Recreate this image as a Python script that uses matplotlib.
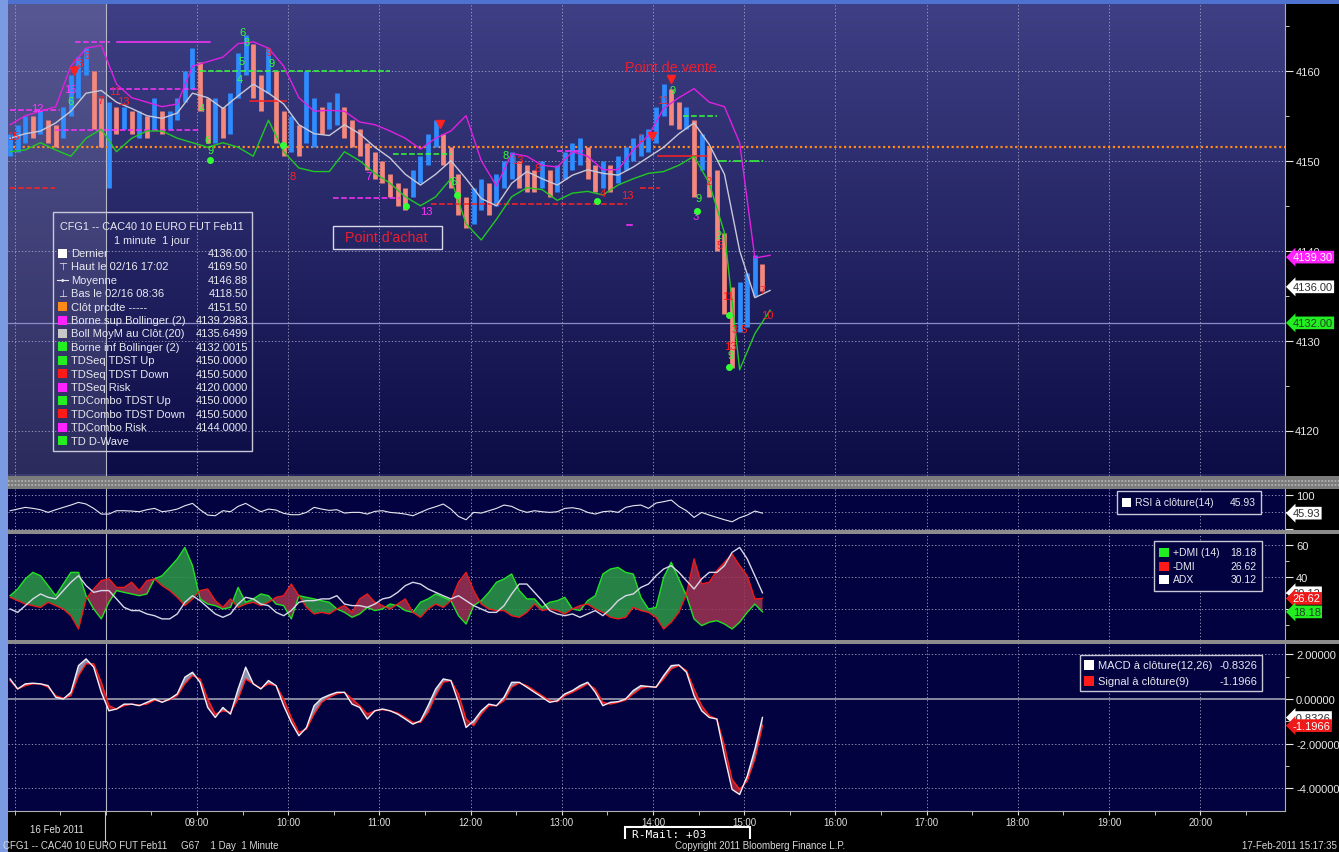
import numpy as np
import matplotlib.pyplot as plt
from matplotlib.patches import Rectangle
from matplotlib.lines import Line2D
from matplotlib.colors import LinearSegmentedColormap

plt.rcParams['font.family'] = ['Liberation Sans', 'DejaVu Sans']

# ---- price, 5 minute bars (first bar 06:57) ----
start = 6.95
close = [4151.5, 4152.5, 4154, 4153.5, 4154, 4153, 4152.5, 4155, 4157.5, 4160.5,
         4161.5, 4156, 4153, 4155, 4154.5, 4155, 4154, 4154.5, 4153.5, 4155,
         4154, 4154.5, 4156, 4158.5, 4160.5, 4157, 4154, 4156, 4153.5, 4155.5,
         4160, 4162.5, 4158.5, 4157, 4160, 4155, 4152, 4153.5, 4152, 4154,
         4155, 4154.5, 4155, 4156, 4154, 4153, 4152, 4150.5, 4149.5, 4148.5,
         4147, 4146, 4145.5, 4147.5, 4149, 4151.5, 4153, 4151, 4149, 4146,
         4144, 4145, 4146.5, 4145.5, 4147, 4149, 4149.5, 4148.5, 4148, 4147.5,
         4148.5, 4147.5, 4148, 4149.5, 4150.5, 4151, 4149.5, 4148, 4148.5, 4148,
         4149, 4150, 4151, 4151.5, 4152, 4154.5, 4157, 4155.5, 4154.5, 4155,
         4150, 4151, 4148, 4143, 4136, 4131.5, 4133, 4135.5, 4138, 4136]
high = [4153, 4154, 4155, 4155, 4155.5, 4154.5, 4154, 4156, 4159.5, 4161.5,
        4162.5, 4160, 4157, 4156.5, 4156, 4156, 4155.5, 4155.5, 4155, 4157,
        4155.5, 4155.5, 4157, 4160, 4162.5, 4161, 4157, 4157, 4156, 4157.5,
        4162, 4164, 4163, 4159.5, 4162.5, 4160, 4155.5, 4155, 4154, 4160,
        4157, 4156, 4156.5, 4157.5, 4156, 4154.5, 4153.5, 4152, 4151, 4150,
        4148.5, 4147.5, 4147, 4149, 4150.5, 4153, 4154.5, 4153, 4151.5, 4148.5,
        4146, 4147, 4148, 4147.5, 4148.5, 4150, 4151, 4150, 4149.5, 4149,
        4150, 4149, 4149.5, 4151, 4152, 4152.5, 4151.5, 4149.5, 4150, 4149.5,
        4150.5, 4151.5, 4152.5, 4153, 4153.5, 4156, 4158.5, 4158, 4156.5, 4156,
        4154.5, 4153, 4151.5, 4149, 4142, 4136, 4136.5, 4137.5, 4139.5, 4138.5]
low = [4150.5, 4151, 4152, 4152.5, 4153, 4152, 4151.5, 4152.5, 4155, 4157,
       4159.5, 4153.5, 4151.5, 4147, 4153, 4153.5, 4153, 4152.5, 4152.5, 4153.5,
       4153, 4153.5, 4154.5, 4156.5, 4158, 4155.5, 4152, 4152, 4152.5, 4153,
       4157, 4159.5, 4157, 4155.5, 4157.5, 4152, 4150.5, 4151, 4150.5, 4152,
       4151.5, 4153, 4153.5, 4154, 4152.5, 4151.5, 4150.5, 4149, 4148, 4147.5,
       4146, 4145, 4144.5, 4146, 4147.5, 4149.5, 4151.5, 4149.5, 4147, 4144,
       4142.5, 4143, 4144.5, 4144, 4145, 4147, 4148, 4147, 4146.5, 4146.5,
       4147, 4146, 4146.5, 4148, 4149, 4149.5, 4148, 4146.5, 4147, 4146.5,
       4147.5, 4149, 4150, 4150.5, 4151, 4152, 4155, 4154, 4153.5, 4153.5,
       4146, 4149, 4146, 4140, 4133, 4127, 4131, 4131.5, 4135, 4135.5]

# Bollinger (20, 2), every 10 minutes
boll_up = [4154, 4155, 4155.5, 4156, 4160.5, 4162.5, 4162.8, 4158.5, 4157, 4156.5,
           4156, 4156.3, 4160.5, 4161, 4161.5, 4163, 4163.2, 4162.5, 4160.5, 4157,
           4155.5, 4155.6, 4155.5, 4154.3, 4154, 4153.3, 4152.5, 4151.3, 4152.5, 4153.3,
           4155, 4150, 4147.2, 4150.8, 4150.5, 4149.5, 4149.3, 4151, 4150.5, 4149,
           4149, 4151.2, 4152.8, 4155.8, 4157, 4158, 4156.5, 4156, 4152, 4139.2, 4139.5]
boll_mid = [4152.5, 4153, 4153.3, 4154.2, 4155.5, 4157.5, 4157.8, 4156.5, 4155.8, 4155,
            4154.7, 4155.3, 4157.5, 4157, 4155.8, 4157.2, 4158.5, 4157.5, 4156.3, 4154,
            4153, 4152.8, 4154, 4153, 4151.5, 4150.3, 4148.5, 4147.3, 4148.5, 4150,
            4148, 4145.8, 4145, 4147.5, 4148.8, 4148, 4147.3, 4148.4, 4149, 4148.6,
            4148.4, 4149.3, 4150.4, 4151.5, 4153, 4154.2, 4151.8, 4148.5, 4140, 4134.8, 4135.6]
boll_lo = [4151, 4151.2, 4152, 4151.2, 4150.5, 4152.5, 4153.5, 4151, 4152.5, 4153.3,
           4153.3, 4152.5, 4152, 4151.5, 4152, 4151.5, 4150.5, 4154.5, 4151, 4149.2,
           4148.8, 4148.8, 4151, 4150, 4148.6, 4147.5, 4146, 4145, 4146, 4148,
           4143, 4141.2, 4143.5, 4146, 4147, 4146.8, 4145.6, 4146.4, 4146.6, 4146.2,
           4147.3, 4148, 4148.6, 4148.8, 4149.5, 4150.5, 4147.5, 4142, 4126.8, 4130.8, 4133.4]

# RSI(14), 5 minute samples
rsi = [53, 57.8, 62.7, 59.8, 55.9, 48.2, 55.9, 62.7, 69.5, 77.2,
       72.4, 59.8, 43.3, 43.3, 53, 53, 52, 50.1, 55.9, 59.8,
       50.1, 53, 57.8, 67.5, 74.3, 55.9, 40.4, 38.5, 53, 50.1,
       65.6, 74.3, 61.7, 50.1, 57.8, 54.9, 45.3, 41.4, 41.4, 48.2,
       62.7, 57.8, 54, 55.9, 46.2, 48.2, 48.2, 43.3, 51.1, 53,
       48.2, 46.2, 43.3, 38.5, 48.2, 57.8, 64.6, 72.4, 57.8, 36.5,
       26.8, 48.2, 46.2, 53, 59.8, 69.5, 65.6, 54.9, 48.2, 53,
       50.1, 48.2, 50.1, 59.8, 61.7, 57.8, 48.2, 43.3, 50.1, 52,
       48.2, 62.7, 67.5, 69.5, 59.8, 75.3, 79.2, 84, 65.6, 53,
       33.6, 48.2, 40.4, 33.6, 26.8, 21, 32.6, 40.4, 52, 45.9]

# DMI(14)
dmi_plus = [28.3, 32.5, 38.8, 42.9, 40.8, 34.6, 28.3, 35.6, 42.9, 42.9,
            28.3, 20.0, 13.8, 24.2, 31.5, 30.4, 29.4, 28.3, 29.4, 38.8,
            40.8, 46.0, 51.3, 58.5, 47.1, 26.3, 23.1, 22.1, 20.0, 21.0,
            33.5, 24.2, 26.3, 29.4, 28.3, 23.1, 22.1, 13.8, 28.3, 27.3,
            26.3, 25.2, 24.2, 20.0, 17.9, 14.8, 16.9, 21.0, 19.0, 20.0,
            23.1, 22.1, 19.0, 17.9, 24.2, 26.3, 29.4, 27.3, 25.2, 15.8,
            10.6, 22.1, 25.2, 30.4, 36.7, 38.8, 41.9, 31.5, 26.3, 26.3,
            21.0, 24.2, 25.2, 27.3, 20.0, 19.0, 25.2, 28.3, 41.9, 45.0,
            46.0, 42.9, 41.9, 27.3, 20.0, 21.0, 39.8, 49.2, 38.8, 28.3,
            13.8, 9.6, 11.7, 12.7, 10.6, 7.5, 11.7, 17.9, 23.1, 18.2]
dmi_minus = [27.3, 25.2, 23.1, 22.1, 21.0, 24.2, 22.1, 20.0, 15.8, 7.5,
             26.3, 32.5, 37.7, 38.8, 33.5, 33.5, 36.7, 31.5, 37.7, 38.8,
             34.6, 31.5, 27.3, 22.1, 26.3, 31.5, 32.5, 25.2, 21.0, 26.3,
             21.0, 23.1, 24.2, 22.1, 24.2, 27.3, 28.3, 35.6, 28.3, 21.0,
             16.9, 17.9, 16.9, 20.0, 22.1, 17.9, 26.3, 29.4, 24.2, 22.1,
             20.0, 23.1, 26.3, 17.9, 14.8, 20.0, 23.1, 21.0, 25.2, 36.7,
             42.9, 31.5, 23.1, 20.0, 19.0, 19.0, 15.8, 14.8, 17.9, 23.1,
             19.0, 20.0, 19.0, 16.9, 20.0, 22.1, 23.1, 20.0, 17.9, 14.8,
             13.8, 14.8, 21.0, 19.0, 17.9, 14.8, 7.5, 11.7, 17.9, 29.4,
             51.3, 35.6, 36.7, 44.0, 49.2, 54.4, 47.1, 40.8, 26.3, 26.6]
adx = [20.0, 17.9, 22.1, 26.3, 29.4, 27.3, 26.3, 31.5, 36.7, 40.8,
       34.6, 30.4, 31.5, 31.5, 26.3, 21.0, 19.0, 19.0, 16.9, 15.8,
       13.8, 13.8, 16.9, 24.2, 28.3, 25.2, 21.0, 16.9, 14.8, 16.9,
       23.1, 27.3, 26.3, 23.1, 22.1, 17.9, 15.8, 19.0, 24.2, 25.2,
       25.2, 26.3, 26.3, 28.3, 23.1, 22.1, 22.1, 21.0, 23.1, 26.3,
       27.3, 30.4, 34.6, 36.7, 35.6, 32.5, 30.4, 28.3, 26.3, 28.3,
       25.2, 22.1, 20.0, 17.9, 17.9, 22.1, 29.4, 35.6, 35.6, 30.4,
       25.2, 19.0, 16.9, 15.8, 16.9, 14.8, 16.9, 19.0, 15.8, 20.0,
       25.2, 28.3, 29.4, 33.5, 35.6, 40.8, 45.0, 47.1, 42.9, 37.7,
       32.5, 38.8, 42.9, 42.9, 47.1, 55.4, 58.5, 51.3, 40.8, 30.1]

# MACD(12,26) and signal(9)
macd = [0.90, 0.45, 0.68, 0.71, 0.68, 0.60, 0.08, 0.00, 0.30, 1.50,
        1.80, 1.43, 0.30, -0.53, -0.45, -0.23, -0.23, -0.30, -0.15, 0.00,
        -0.15, 0.00, 0.23, 0.98, 1.20, 0.75, -0.38, -0.83, -0.38, -0.68,
        0.45, 1.43, 0.68, 0.45, 0.83, 0.60, -0.30, -1.05, -1.65, -1.28,
        -0.30, 0.03, 0.18, 0.30, 0.30, -0.23, -0.38, -0.90, -0.53, -0.45,
        -0.53, -0.68, -0.90, -1.13, -0.98, -0.30, 0.45, 0.90, 0.83, -0.15,
        -1.28, -0.98, -0.53, -0.23, -0.30, 0.08, 0.75, 0.75, 0.53, 0.30,
        0.08, -0.15, -0.08, 0.23, 0.38, 0.60, 0.75, 0.30, -0.30, -0.15,
        -0.12, 0.00, 0.38, 0.60, 0.56, 0.53, 1.05, 1.50, 1.53, 1.20,
        0.15, -0.53, -0.83, -0.90, -2.56, -4.06, -4.29, -3.46, -2.26, -0.83]
signal = [0.83, 0.45, 0.60, 0.68, 0.68, 0.53, 0.15, 0.03, 0.15, 1.05,
          1.58, 1.58, 0.75, -0.30, -0.45, -0.30, -0.23, -0.27, -0.23, -0.05,
          -0.12, -0.03, 0.15, 0.68, 1.05, 0.90, 0.00, -0.68, -0.53, -0.60,
          0.00, 0.90, 0.68, 0.48, 0.68, 0.60, 0.00, -0.83, -1.50, -1.35,
          -0.68, -0.15, 0.08, 0.23, 0.30, 0.00, -0.30, -0.68, -0.53, -0.48,
          -0.53, -0.63, -0.83, -1.05, -1.05, -0.60, 0.15, 0.75, 0.83, 0.23,
          -0.90, -1.20, -0.68, -0.30, -0.30, -0.08, 0.53, 0.72, 0.60, 0.38,
          0.15, -0.08, -0.12, 0.15, 0.30, 0.48, 0.68, 0.45, -0.15, -0.23,
          -0.15, -0.05, 0.23, 0.48, 0.56, 0.53, 0.90, 1.35, 1.50, 1.28,
          0.45, -0.30, -0.75, -0.90, -2.11, -3.61, -4.06, -3.68, -2.71, -1.20]

# TDST / risk levels: (from, to, level, colour, style)
lvl_t0 = [8.12, 7.66, 8.05, 6.95, 7.44, 6.95, 9.03, 9.58, 10.49, 11.56, 12.95, 13.86, 14.05, 14.33, 14.70, 11.15, 13.72]
lvl_t1 = [9.14, 8.05, 9.03, 7.50, 9.03, 7.44, 11.12, 9.97, 11.23, 13.72, 13.23, 14.08, 14.59, 14.70, 15.23, 11.78, 13.77]
lvl_p = [4163.2, 4163.2, 4158.0, 4155.6, 4153.4, 4147.0, 4160.0, 4156.6, 4145.9, 4145.2, 4151.1, 4147.0, 4150.5, 4155.0, 4150.0, 4150.8, 4142.9]
lvl_c = ['m', 'm', 'm', 'm', 'm', 'r', 'g', 'r', 'm', 'r', 'm', 'r', 'r', 'g', 'g', 'g', 'm']
lvl_ls = ['-', '--', '--', '--', '--', '--', '--', '-', '--', '--', '--', '--', '-', '--', '-.', '--', '-']

# TD sequential counts
td_t = [7.245, 6.982, 7.684, 7.783, 7.607, 7.607, 7.936, 8.101, 8.188, 9.494, 9.548, 9.494, 9.472,
        9.779, 9.812, 9.055, 9.110, 9.143, 10.053, 10.875, 11.511, 12.51, 12.38, 12.74, 13.45,
        13.716, 14.209, 13.858, 14.111, 14.604, 14.473, 14.495, 11.81, 14.955, 14.846, 14.846,
        15.251, 15.197, 14.824, 14.736, 14.714]
td_p = [4155.8, 4152.8, 4160.8, 4161.7, 4156.6, 4158.0, 4156.7, 4157.7, 4156.6, 4164.3, 4163.2, 4161.1, 4159.1,
        4162.1, 4160.8, 4155.8, 4152.3, 4151.2, 4148.3, 4148.3, 4144.4, 4150.1, 4150.6, 4149.2, 4146.4,
        4146.2, 4157.8, 4152.5, 4156.7, 4147.7, 4143.9, 4145.9, 4147.7, 4131.3, 4129.4, 4128.4,
        4132.9, 4135.6, 4135.0, 4140.6, 4141.8]
td_txt = ['12', '15', '13', '6', '6', '15', '7', '11', '13', '6', '8', '5', '4',
          '9', '9', '4', '6', '9', '8', '7', '13', '13', '8', '8', '4',
          '13', '9', '1', '11', '2', '3', '9', '6', '3 5', '13', '9',
          '10', '7', '11', '5', '2']
td_c = ['m', 'r', 'r', 'r', 'g', 'm', 'r', 'r', 'r', 'g', 'g', 'g', 'g',
        'r', 'g', 'g', 'g', 'g', 'r', 'm', 'm', 'r', 'g', 'r', 'r',
        'r', 'g', 'r', 'r', 'r', 'm', 'g', 'g', 'r', 'r', 'g',
        'r', 'r', 'r', 'r', 'g']
dot_t = [9.143, 9.943, 11.292, 11.85, 13.387, 14.484, 14.835, 14.835]
dot_p = [4150.1, 4151.7, 4145.0, 4146.2, 4145.5, 4144.4, 4132.9, 4127.1]
arrow_t = [7.651, 11.665, 13.99, 14.199]
arrow_p = [4160.0, 4154.1, 4152.8, 4159.1]

# legend of the price panel
leg_names = ['Dernier', 'Haut le 02/16 17:02', 'Moyenne', 'Bas le 02/16 08:36', 'Clôt prcdte -----',
             'Borne sup Bollinger (2)', 'Boll MoyM au Clôt.(20)', 'Borne inf Bollinger (2)',
             'TDSeq TDST Up', 'TDSeq TDST Down', 'TDSeq Risk', 'TDCombo TDST Up',
             'TDCombo TDST Down', 'TDCombo Risk', 'TD D-Wave']
leg_vals = ['4136.00', '4169.50', '4146.88', '4118.50', '4151.50', '4139.2983', '4135.6499',
            '4132.0015', '4150.0000', '4150.5000', '4120.0000', '4150.0000', '4150.5000', '4144.0000', '']
leg_cols = ['white', None, None, None, '#ff8a1a', '#ff22ff', '#c8c8c8', '#22ee22',
            '#22ee22', '#ff1a1a', '#ff22ff', '#22ee22', '#ff1a1a', '#ff22ff', '#22ee22']
hours = [7, 9, 10, 11, 12, 13, 14, 15, 16, 17, 18, 19, 20]

COL = {'r': '#ff2020', 'g': '#33ff33', 'm': '#ff33ff'}
TXT = '#e8e8f0'
W, H = 1339, 853
T0, T1 = 6.927, 20.93

fig = plt.figure(figsize=(W / 100, H / 100), dpi=100, facecolor='black')


def fx(x):
    return x / W


def fy(y):
    return 1 - y / H


def frect(x0, y0, x1, y1, **kw):
    fig.add_artist(Rectangle((fx(x0), fy(y1)), (x1 - x0) / W, (y1 - y0) / H,
                             transform=fig.transFigure, **kw))


def fline(x0, y0, x1, y1, **kw):
    fig.add_artist(Line2D([fx(x0), fx(x1)], [fy(y0), fy(y1)], transform=fig.transFigure, **kw))


def ftext(x, y, s, ha='left', size=7.5, **kw):
    fig.text(fx(x), fy(y), s, ha=ha, va='center', fontsize=size, color=kw.pop('color', TXT),
             zorder=kw.pop('zorder', 12), **kw)


def panel(y0, y1, ylim, bg):
    ax = fig.add_axes([fx(8), fy(y1), fx(1285) - fx(8), (y1 - y0) / H])
    ax.set_facecolor(bg)
    ax.set_xlim(T0, T1)
    ax.set_ylim(*ylim)
    for s in ax.spines.values():
        s.set_visible(False)
    ax.spines['right'].set_visible(True)
    ax.spines['right'].set_color('#b0b0b0')
    ax.yaxis.tick_right()
    ax.tick_params(axis='y', which='both', colors='#e8e8e8', labelsize=8, pad=2)
    ax.tick_params(axis='y', which='major', length=6)
    ax.tick_params(axis='y', which='minor', length=3)
    ax.tick_params(axis='x', which='both', bottom=False, labelbottom=False)
    for h in hours:
        ax.axvline(h, color='#a8a8c8', lw=0.6, ls=(0, (1.5, 2.5)), zorder=1)
    ax.axvline(8, color='#b8b8c8', lw=0.8, zorder=1)
    return ax


def hgrid(ax, vals):
    for v in vals:
        ax.axhline(v, color='#a8a8c8', lw=0.6, ls=(0, (1.5, 2.5)), zorder=1)


def tag(ax, v, s, fc, tc):
    ax.text(1.006, v, s, transform=ax.get_yaxis_transform(), ha='left', va='center',
            fontsize=8, color=tc, clip_on=False, zorder=10,
            bbox=dict(boxstyle='larrow,pad=0.12', fc=fc, ec='none'))


t = start + np.arange(len(close)) / 12
tb = start + np.arange(len(boll_mid)) / 6
close, high, low = np.array(close), np.array(high), np.array(low)

# frame strips
frect(0, 0, W, 5, fc='#4d72d0', ec='none')
frect(0, 0, 8, H, fc='#7a9be2', ec='none')

# ---------------- price panel ----------------
ax = panel(5, 477, (4115.25, 4167.4), '#20205e')
grad = np.linspace(0, 1, 256).reshape(-1, 1)
cmap = LinearSegmentedColormap.from_list('bg', ['#3e3f84', '#0c0c46'])
ax.imshow(grad, extent=[T0, T1, 4115.25, 4167.4], aspect='auto', cmap=cmap, zorder=0)
ax.set_xlim(T0, T1)
ax.axvspan(T0, 8, color='white', alpha=0.13, lw=0, zorder=0.5)
hgrid(ax, [4120, 4130, 4140, 4150, 4160])
ax.axhline(4132, color='#8c8cc8', lw=0.9, zorder=1)
ax.axhline(4151.5, color='#ff8a1a', lw=1.6, ls=(0, (1, 1.2)), zorder=2)
ax.set_yticks([4120, 4130, 4140, 4150, 4160])
ax.set_yticks([4115, 4125, 4135, 4145, 4155, 4165], minor=True)
ax.set_yticklabels(['', '4130', '4140', '4150', '4160'])
ax.text(1.008, 4120, '4120', transform=ax.get_yaxis_transform(), va='center', fontsize=8, color='#e8e8e8')

up = np.r_[True, close[1:] >= close[:-1]]
ax.vlines(t[up], low[up], high[up], color='#2e8cff', lw=3.4, zorder=3)
ax.vlines(t[~up], low[~up], high[~up], color='#f4887c', lw=3.4, zorder=3)

for a, b, p, c, ls in zip(lvl_t0, lvl_t1, lvl_p, lvl_c, lvl_ls):
    ax.plot([a, b], [p, p], color=COL[c], ls=ls, lw=1.1, zorder=4)

ax.plot(tb, boll_up, color='#e020e0', lw=1.0, zorder=5)
ax.plot(tb, boll_mid, color='#c8c8d8', lw=1.0, zorder=5)
ax.plot(tb, boll_lo, color='#22c822', lw=1.0, zorder=5)

for a, p, s, c in zip(td_t, td_p, td_txt, td_c):
    ax.text(a, p, s, color=COL[c], fontsize=8, ha='center', va='center', zorder=6)
ax.plot(dot_t, dot_p, 'o', color='#33ff33', ms=4, zorder=6)
ax.plot(arrow_t, arrow_p, 'v', color='#ff2020', ms=6, zorder=6)

ax.text(14.2, 4160.4, 'Point de vente', color='#e82030', fontsize=10.3, ha='center', va='center', zorder=7)
ax.text(11.08, 4141.5, "Point d'achat", color='#e82030', fontsize=10.3, ha='center', va='center', zorder=7)
frect(333, 227, 442, 250, fc='none', ec='#d8d8e8', lw=1, zorder=8)

tag(ax, 4139.30, '4139.30', '#ff22ff', 'white')
tag(ax, 4136.00, '4136.00', 'white', '#303030')
tag(ax, 4132.00, '4132.00', '#22ee22', '#204020')

# price legend
frect(53, 213, 252, 452, fc='none', ec='#c8c8d8', lw=1, zorder=8)
ftext(152, 227, 'CFG1 -- CAC40 10 EURO FUT Feb11', ha='center', size=7.8)
ftext(152, 241, '1 minute  1 jour', ha='center', size=7.8)
for k, (n, v, c) in enumerate(zip(leg_names, leg_vals, leg_cols)):
    y = 254 + 13.4 * k
    if c is not None:
        frect(58, y - 4.5, 67, y + 4.5, fc=c, ec='none', zorder=8)
    ftext(71, y, n, size=8)
    ftext(248, y, v, ha='right', size=8)
ftext(62.5, 267, '⊤', ha='center')
ftext(62.5, 294, '⊥', ha='center')
fline(57, 281, 68, 281, color=TXT, lw=0.8, zorder=8)
ftext(62.5, 281, '•', ha='center', size=7)

# ---------------- RSI ----------------
ax2 = panel(490, 531, (-2.9, 116), '#020240')
hgrid(ax2, [0, 50, 100])
ax2.set_yticks([0, 50, 100])
ax2.set_yticklabels(['', '', '100'])
ax2.plot(t, rsi, color=TXT, lw=0.8, zorder=3)
tag(ax2, 45.93, '45.93', 'white', '#303030')
frect(1117, 492, 1261, 515, fc='#020240', ec='#c8c8d8', lw=1, zorder=8)
frect(1122, 499, 1131, 508, fc='white', ec='none', zorder=9)
ftext(1135, 503.5, 'RSI à clôture(14)')
ftext(1256, 503.5, '45.93', ha='right')

# ---------------- DMI ----------------
ax3 = panel(535, 641, (0.6, 66.9), '#020240')
hgrid(ax3, [20, 40, 60])
ax3.set_yticks([20, 40, 60])
ax3.set_yticklabels(['', '40', '60'])
ax3.set_yticks([10, 30, 50], minor=True)
dp, dm = np.array(dmi_plus), np.array(dmi_minus)
ax3.fill_between(t, dp, dm, where=dp >= dm, interpolate=True, color='#2e9a48', alpha=0.85, lw=0, zorder=2)
ax3.fill_between(t, dp, dm, where=dp < dm, interpolate=True, color='#a03452', alpha=0.85, lw=0, zorder=2)
ax3.plot(t, dp, color='#22e022', lw=1.0, zorder=3)
ax3.plot(t, dm, color='#ee1a1a', lw=1.0, zorder=3)
ax3.plot(t, adx, color='#d8d8e8', lw=1.0, zorder=4)
tag(ax3, 30.12, '30.12', 'white', '#303030')
tag(ax3, 26.62, '26.62', '#ee1a1a', 'white')
tag(ax3, 18.18, '18.18', '#22ee22', '#204020')
frect(1154, 542, 1262, 592, fc='#020240', ec='#c8c8d8', lw=1, zorder=8)
for y, n, v, c in [(553, '+DMI (14)', '18.18', '#22ee22'), (567, '-DMI', '26.62', '#ff1a1a'),
                   (580, 'ADX', '30.12', 'white')]:
    frect(1159, y - 4.5, 1169, y + 4.5, fc=c, ec='none', zorder=9)
    ftext(1173, y, n)
    ftext(1257, y, v, ha='right')

# ---------------- MACD ----------------
ax4 = panel(645, 812, (-5.03, 2.47), '#020240')
hgrid(ax4, [2, -2, -4])
ax4.axhline(0, color='#a0a0b0', lw=1.2, zorder=1)
ax4.set_yticks([2, 0, -2, -4])
ax4.set_yticklabels(['2.00000', '0.00000', '-2.00000', '-4.00000'])
ax4.set_yticks([1, -1, -3], minor=True)
mc, sg = np.array(macd), np.array(signal)
ax4.fill_between(t, mc, sg, where=mc >= sg, interpolate=True, color='#8c8cab', lw=0, zorder=2)
ax4.fill_between(t, mc, sg, where=mc < sg, interpolate=True, color='#9a1f38', lw=0, zorder=2)
ax4.plot(t, sg, color='#ff2020', lw=1.0, zorder=3)
ax4.plot(t, mc, color='#f0f0f8', lw=1.0, zorder=4)
tag(ax4, -0.8326, '-0.8326', 'white', '#303030')
tag(ax4, -1.1966, '-1.1966', '#ee1a1a', 'white')
frect(1080, 656, 1262, 692, fc='#020240', ec='#c8c8d8', lw=1, zorder=8)
for y, n, v, c in [(666, 'MACD à clôture(12,26)', '-0.8326', 'white'),
                   (682, 'Signal à clôture(9)', '-1.1966', '#ff1a1a')]:
    frect(1084, y - 5, 1094, y + 5, fc=c, ec='none', zorder=9)
    ftext(1098, y, n, size=8)
    ftext(1257, y, v, ha='right', size=8)

ax4.spines['bottom'].set_visible(True)
ax4.spines['bottom'].set_color('#b0b0b0')
ax4.set_xticks(range(9, 21))
ax4.set_xticklabels(['%02d:00' % h for h in range(9, 21)])
ax4.set_xticks(np.arange(7, 21, 0.5), minor=True)
ax4.tick_params(axis='x', which='both', bottom=True, labelbottom=True, colors='#e0e0e0',
                labelsize=7, length=3, pad=1)

# separators between panels
frect(8, 477, W, 490, fc='#7c7c7c', ec='none', zorder=9)
fline(8, 481.5, W, 481.5, color='#b8b8b8', lw=1.2, ls=(0, (1, 1)), zorder=9)
fline(8, 486, W, 486, color='#b8b8b8', lw=1.2, ls=(0, (1, 1)), zorder=9)
frect(8, 531, W, 535, fc='#8c8c8c', ec='none', zorder=9)
frect(8, 641, W, 645, fc='#8c8c8c', ec='none', zorder=9)

# bottom bar
fline(105, 812, 105, 843, color='#c8c8c8', lw=0.8)
ftext(57, 830, '16 Feb 2011', ha='center', size=7, color='#e0e0e0')
frect(625, 828, 750, 853, fc='black', ec='white', lw=1.5, zorder=8)
fig.text(fx(632), fy(830), 'R-Mail: +03', ha='left', va='top', fontsize=8, color='white',
         family='DejaVu Sans Mono', zorder=9)
frect(620, 840, 755, 853, fc='black', ec='none', zorder=10)
ftext(3, 846, 'CFG1 -- CAC40 10 EURO FUT Feb11     G67    1 Day  1 Minute', size=7, color='#d8d8d8')
ftext(675, 846.5, 'Copyright 2011 Bloomberg Finance L.P.', size=7, color='#d8d8d8')
ftext(1337, 846, '17-Feb-2011 15:17:35', ha='right', size=7, color='#d8d8d8')

fig.savefig('out.png', dpi=100, facecolor='black')
